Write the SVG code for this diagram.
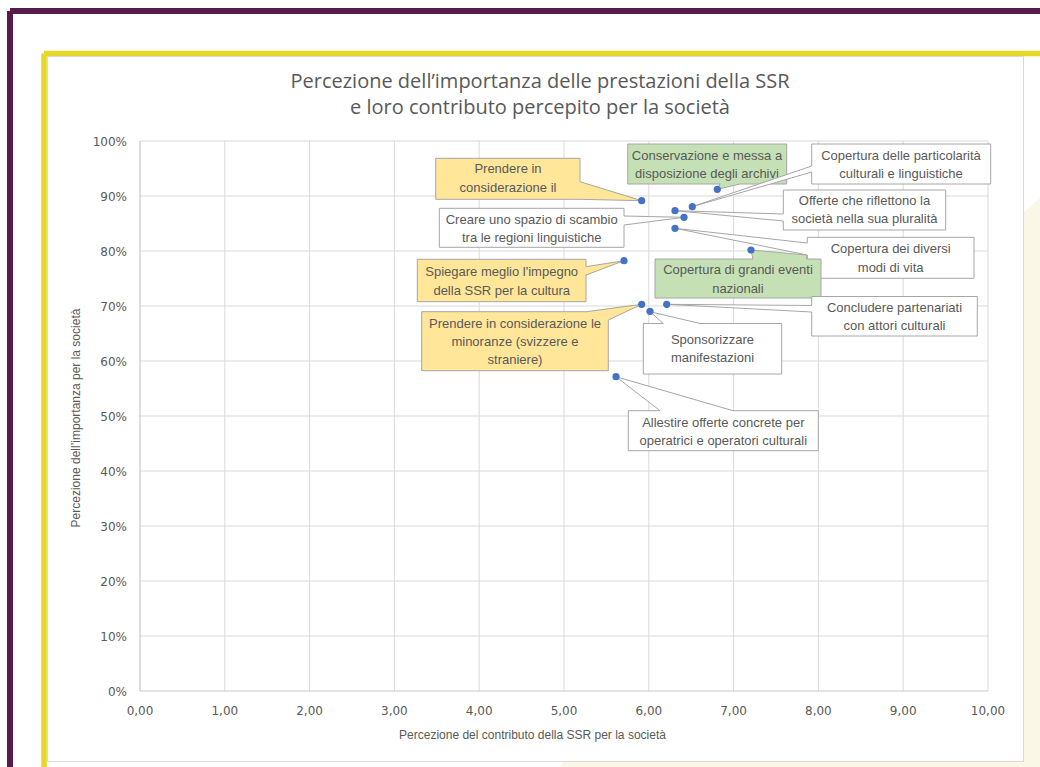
<svg xmlns="http://www.w3.org/2000/svg" width="1040" height="767" viewBox="0 0 1040 767">
<style>
.grid{stroke:#d9d9d9;stroke-width:1;fill:none}
.axis{stroke:#c8c8c8;stroke-width:1.2;fill:none}
.tick{font-family:"DejaVu Sans",sans-serif;font-size:12px;fill:#595959}
.ttl{font-family:"Open Sans","Liberation Sans",sans-serif;font-size:20px;fill:#595959}
.atl{font-family:"Liberation Sans",sans-serif;font-size:12px;fill:#595959}
.lbl{font-family:"Liberation Sans",sans-serif;font-size:13px;fill:#595959;text-anchor:middle}
.cw{fill:#ffffff;stroke:#a6a6a6;stroke-width:1}
.cy{fill:#ffe699;stroke:#a6a6a6;stroke-width:1}
.cg{fill:#c5e0b4;stroke:#a6a6a6;stroke-width:1}
.pt{fill:#4472c4}
</style>
<rect x="0" y="0" width="1040" height="767" fill="#ffffff"/>
<path d="M560,767 C700,600 900,320 1040,198 L1040,767 Z" fill="#fbf7e6"/>
<path d="M10,11 H1040 M10,11 V767" stroke="#581c4c" stroke-width="6" fill="none"/>
<path d="M44,53.5 H1040 M44,53.5 V767" stroke="#e5d826" stroke-width="5.5" fill="none"/>
<rect x="47.5" y="56.5" width="976" height="705" fill="#ffffff" stroke="#d9d9d9" stroke-width="1"/>

<g id="title">
<text class="ttl" x="540" y="88" text-anchor="middle">Percezione dell’importanza delle prestazioni della SSR</text>
<text class="ttl" x="540" y="114" text-anchor="middle">e loro contributo percepito per la società</text>
</g>

<g id="grid">
<path class="grid" d="M224.8,141V691M309.6,141V691M394.4,141V691M479.2,141V691M564,141V691M648.8,141V691M733.6,141V691M818.4,141V691M903.2,141V691M988,141V691"/>
<path class="grid" d="M140,141H988M140,196H988M140,251H988M140,306H988M140,361H988M140,416H988M140,471H988M140,526H988M140,581H988M140,636H988"/>
<path class="axis" d="M140,141V691H988"/>
</g>

<g id="y-ticks" text-anchor="end">
<text class="tick" x="127" y="145.5">100%</text>
<text class="tick" x="127" y="200.5">90%</text>
<text class="tick" x="127" y="255.5">80%</text>
<text class="tick" x="127" y="310.5">70%</text>
<text class="tick" x="127" y="365.5">60%</text>
<text class="tick" x="127" y="420.5">50%</text>
<text class="tick" x="127" y="475.5">40%</text>
<text class="tick" x="127" y="530.5">30%</text>
<text class="tick" x="127" y="585.5">20%</text>
<text class="tick" x="127" y="640.5">10%</text>
<text class="tick" x="127" y="695.5">0%</text>
</g>
<g id="x-ticks" text-anchor="middle">
<text class="tick" x="140" y="714.5">0,00</text>
<text class="tick" x="224.8" y="714.5">1,00</text>
<text class="tick" x="309.6" y="714.5">2,00</text>
<text class="tick" x="394.4" y="714.5">3,00</text>
<text class="tick" x="479.2" y="714.5">4,00</text>
<text class="tick" x="564" y="714.5">5,00</text>
<text class="tick" x="648.8" y="714.5">6,00</text>
<text class="tick" x="733.6" y="714.5">7,00</text>
<text class="tick" x="818.4" y="714.5">8,00</text>
<text class="tick" x="903.2" y="714.5">9,00</text>
<text class="tick" x="988" y="714.5">10,00</text>
</g>
<g id="axis-titles">
<text class="atl" x="532.5" y="739" text-anchor="middle">Percezione del contributo della SSR per la società</text>
<text class="atl" transform="translate(80,418) rotate(-90)" text-anchor="middle">Percezione dell’importanza per la società</text>
</g>

<g id="connectors"></g>

<g id="n-prendere-il">
<path class="cy" d="M435.7,158.3H580V181.7L641.7,200.7L580,199.3H435.7Z"/>
<text class="lbl" x="508" y="173">Prendere in</text>
<text class="lbl" x="508" y="192">considerazione il</text>
</g>
<g id="n-conservazione">
<path class="cg" d="M627.7,144H786.7V184H740L717.3,189.3L720,184H627.7Z"/>
<text class="lbl" x="707" y="159.5">Conservazione e messa a</text>
<text class="lbl" x="707" y="178">disposizione degli archivi</text>
</g>
<g id="n-particolarita">
<path class="cw" d="M811.7,144H990.7V184H811.7V172L692.3,206.7L811.7,166Z"/>
<text class="lbl" x="901" y="159.5">Copertura delle particolarità</text>
<text class="lbl" x="901" y="178">culturali e linguistiche</text>
</g>
<g id="n-offerte">
<path class="cw" d="M783.3,190H945.7V230H783.3V221L675,210.7L783.3,214Z"/>
<text class="lbl" x="864.5" y="204.5">Offerte che riflettono la</text>
<text class="lbl" x="864.5" y="223">società nella sua pluralità</text>
</g>
<g id="n-creare">
<path class="cw" d="M439.3,208.3H624V216L684,217.3L624,225V247.3H439.3Z"/>
<text class="lbl" x="531.7" y="224">Creare uno spazio di scambio</text>
<text class="lbl" x="531.7" y="242">tra le regioni linguistiche</text>
</g>
<g id="n-diversi">
<path class="cw" d="M807.3,237.3H974V278.3H807.3V255L675,228.3L807.3,243Z"/>
<text class="lbl" x="890.7" y="253">Copertura dei diversi</text>
<text class="lbl" x="890.7" y="271.5">modi di vita</text>
</g>
<g id="n-grandi-eventi">
<path class="cg" d="M655,259H753L751,250L806.7,255V259H821V298H655Z"/>
<text class="lbl" x="738" y="274">Copertura di grandi eventi</text>
<text class="lbl" x="738" y="292.5">nazionali</text>
</g>
<g id="n-spiegare">
<path class="cy" d="M417.3,259.3H586V266.7L624,260.7L586,275V301.7H417.3Z"/>
<text class="lbl" x="501.7" y="276">Spiegare meglio l'impegno</text>
<text class="lbl" x="501.7" y="295">della SSR per la cultura</text>
</g>
<g id="n-minoranze">
<path class="cy" d="M421.7,311.7H586.7L641.7,304.3L608.3,320V370.7H421.7Z"/>
<text class="lbl" x="515" y="328">Prendere in considerazione le</text>
<text class="lbl" x="515" y="346">minoranze (svizzere e</text>
<text class="lbl" x="515" y="364">straniere)</text>
</g>
<g id="n-sponsorizzare">
<path class="cw" d="M643.3,323.5H663.3L650,311.7L700,323.5H781.7V374H643.3Z"/>
<text class="lbl" x="712.5" y="344">Sponsorizzare</text>
<text class="lbl" x="712.5" y="362">manifestazioni</text>
</g>
<g id="n-concludere">
<path class="cw" d="M811.7,296.5H977.3V336H811.7V312L666.7,304.3L811.7,305.5Z"/>
<text class="lbl" x="894.5" y="311.5">Concludere partenariati</text>
<text class="lbl" x="894.5" y="330">con attori culturali</text>
</g>
<g id="n-allestire">
<path class="cw" d="M628.3,410.7H660L616,376.7L733,410.7H818.3V450.7H628.3Z"/>
<text class="lbl" x="723.3" y="427">Allestire offerte concrete per</text>
<text class="lbl" x="723.3" y="444.5">operatrici e operatori culturali</text>
</g>

<g id="points">
<circle class="pt" cx="641.7" cy="200.7" r="3.6"/>
<circle class="pt" cx="717.3" cy="189.3" r="3.6"/>
<circle class="pt" cx="692.3" cy="206.7" r="3.6"/>
<circle class="pt" cx="675" cy="210.7" r="3.6"/>
<circle class="pt" cx="684" cy="217.3" r="3.6"/>
<circle class="pt" cx="675" cy="228.3" r="3.6"/>
<circle class="pt" cx="751" cy="250" r="3.6"/>
<circle class="pt" cx="624" cy="260.7" r="3.6"/>
<circle class="pt" cx="641.7" cy="304.3" r="3.6"/>
<circle class="pt" cx="650" cy="311.3" r="3.6"/>
<circle class="pt" cx="666.7" cy="304.3" r="3.6"/>
<circle class="pt" cx="616" cy="376.7" r="3.6"/>
</g>
</svg>
